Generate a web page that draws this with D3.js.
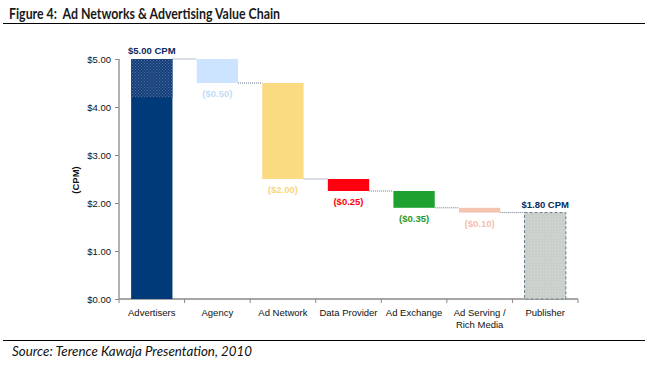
<!DOCTYPE html>
<html><head><meta charset="utf-8">
<script src="https://cdn.jsdelivr.net/npm/d3@7"></script>
<style>body{margin:0;background:#fff}svg{display:block}</style>
</head><body>
<script>
const categories = ["Advertisers","Agency","Ad Network","Data Provider","Ad Exchange","Ad Serving /\nRich Media","Publisher"];
const values = [5.00,-0.50,-2.00,-0.25,-0.35,-0.10,1.80];
const kinds = ["total","step","step","step","step","step","total"];
const valueLabels = ["$5.00 CPM","($0.50)","($2.00)","($0.25)","($0.35)","($0.10)","$1.80 CPM"];
const barColors = ["#003A78","#CCE4FF","#FADB82","#FF0010","#1EA12E","#F5C4B0","#C9CFCA"];
const labelColors = ["#0A2A5E","#C3DBF5","#F7D680","#FF0010","#1E9A2E","#F2C0AC","#0A2A5E"];
const yTicks = [0,1,2,3,4,5];
const advertiserHatchFrom = 4.2;

const W=661,H=365;
const svg=d3.select("body").append("svg").attr("width",W).attr("height",H);
const defs=svg.append("defs");
const p1=defs.append("pattern").attr("id","navyDots").attr("width",3).attr("height",3).attr("patternUnits","userSpaceOnUse");
p1.append("rect").attr("width",3).attr("height",3).attr("fill","#153F7A");
p1.append("rect").attr("width",1).attr("height",1).attr("fill","#4F6E9C");
p1.append("rect").attr("x",1.5).attr("y",1.5).attr("width",1).attr("height",1).attr("fill","#4F6E9C");
const p2=defs.append("pattern").attr("id","grayDots").attr("width",3).attr("height",3).attr("patternUnits","userSpaceOnUse");
p2.append("rect").attr("width",3).attr("height",3).attr("fill","#C9CFCA");
p2.append("rect").attr("width",1).attr("height",1).attr("fill","#D8DCD8");

// title
svg.append("text").attr("x",9).attr("y",19).attr("font-family","Lato").attr("font-weight","bold")
  .attr("font-size",16).attr("fill","#1a1a1a").attr("textLength",271).attr("lengthAdjust","spacingAndGlyphs")
  .style("white-space","pre")
  .text("Figure 4:  Ad Networks & Advertising Value Chain");
svg.append("line").attr("x1",3).attr("x2",645).attr("y1",23.5).attr("y2",23.5).attr("stroke","#000").attr("stroke-width",1.2);
svg.append("line").attr("x1",3).attr("x2",645).attr("y1",340.5).attr("y2",340.5).attr("stroke","#000").attr("stroke-width",1.2);
svg.append("text").attr("x",12).attr("y",356).attr("font-family","Lato").attr("font-style","italic")
  .attr("font-size",12.5).attr("fill","#111").attr("textLength",240).attr("lengthAdjust","spacingAndGlyphs")
  .text("Source: Terence Kawaja Presentation, 2010");

const x=d3.scaleBand().domain(categories).range([119,578]).paddingInner(0.37).paddingOuter(0.185);
const y=d3.scaleLinear().domain([0,5]).range([299,59]);

// compute running
let run=0; const bars=[];
values.forEach((v,i)=>{
  if(kinds[i]==="total"){bars.push({i,lo:0,hi:v,end:v});run=v;}
  else{const nr=run+v;bars.push({i,lo:Math.min(run,nr),hi:Math.max(run,nr),end:nr});run=nr;}
});

// axes
const yAxis=d3.axisLeft(y).tickValues(yTicks).tickFormat(d=>"$"+d3.format(".2f")(d)).tickSize(4);
const gy=svg.append("g").attr("transform","translate(119,0)").call(yAxis);
gy.select(".domain").attr("stroke","#888").attr("stroke-width",1.3).attr("d","M0,59V299");
gy.selectAll(".tick line").attr("stroke","#888");
gy.selectAll(".tick text").attr("font-family","Liberation Sans").attr("font-size",9.5).attr("fill","#111").attr("x",-8);

const gx=svg.append("g").attr("transform","translate(0,299)");
gx.append("line").attr("x1",119).attr("x2",578).attr("stroke","#888").attr("stroke-width",1.3);
d3.range(categories.length+1).forEach(k=>{
  const xx=119+k*(459/categories.length);
  gx.append("line").attr("x1",xx).attr("x2",xx).attr("y1",0).attr("y2",4).attr("stroke","#888");
});
categories.forEach(c=>{
  const lines=c.split("\n");
  const t=gx.append("text").attr("x",x(c)+x.bandwidth()/2).attr("y",17).attr("text-anchor","middle")
    .attr("font-family","Liberation Sans").attr("font-size",9.5).attr("fill","#111");
  lines.forEach((l,j)=>t.append("tspan").attr("x",x(c)+x.bandwidth()/2).attr("dy",j?12:0).text(l));
});

svg.append("text").attr("transform","translate(79,180) rotate(-90)").attr("text-anchor","middle")
  .attr("font-family","Liberation Sans").attr("font-weight","bold").attr("font-size",9.5).attr("fill","#111").text("(CPM)");

// connectors
for(let k=0;k<bars.length-1;k++){
  const lvl=bars[k].end;
  svg.append("line").attr("x1",x(categories[k])+x.bandwidth()).attr("x2",x(categories[k+1]))
    .attr("y1",y(lvl)).attr("y2",y(lvl)).attr("stroke","#6A7890").attr("stroke-width",1).attr("stroke-dasharray","1,1");
}

// bars
bars.forEach(b=>{
  const c=categories[b.i];
  let fill=barColors[b.i];
  if(b.i===6) fill="url(#grayDots)";
  const r=svg.append("rect").attr("x",x(c)).attr("width",x.bandwidth()).attr("y",y(b.hi)).attr("height",y(b.lo)-y(b.hi)).attr("fill",fill);
  if(b.i===6) r.attr("stroke","#6A7A8A").attr("stroke-width",1).attr("stroke-dasharray","3,2");
});
svg.append("rect").attr("x",x(categories[0])).attr("width",x.bandwidth()).attr("y",y(5)).attr("height",y(advertiserHatchFrom)-y(5)).attr("fill","url(#navyDots)");

// labels
bars.forEach(b=>{
  const c=categories[b.i];
  const cx=x(c)+x.bandwidth()/2;
  const yy = kinds[b.i]==="total" ? y(b.hi)-5 : y(b.lo)+14;
  svg.append("text").attr("x",cx).attr("y",yy).attr("text-anchor","middle").attr("font-family","Liberation Sans")
    .attr("font-weight","bold").attr("font-size",9.5).attr("fill",labelColors[b.i]).text(valueLabels[b.i]);
});
</script>
</body></html>
